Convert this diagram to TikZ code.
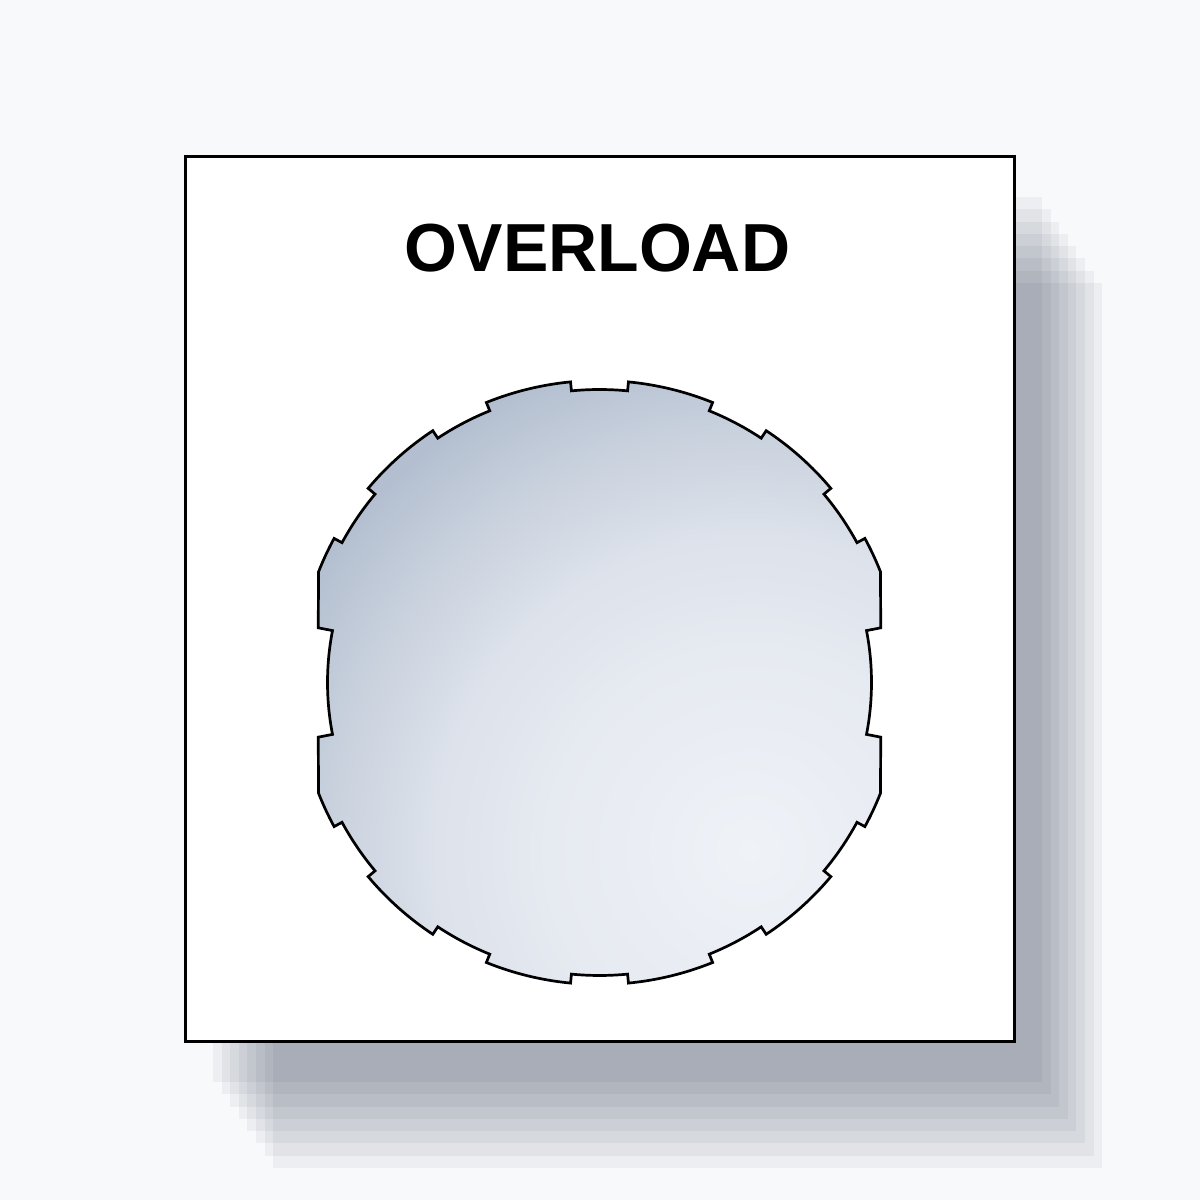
\documentclass[tikz,border=0pt]{standalone}
\usepackage{fontspec}
\setmainfont{Liberation Sans}
\definecolor{bgcol}{HTML}{F8F9FB}
\definecolor{shcol}{RGB}{22,40,62}
\definecolor{lensA}{HTML}{EFF2F7}
\definecolor{lensB}{HTML}{E6EAF1}
\definecolor{lensC}{HTML}{DDE2EB}
\definecolor{lensD}{HTML}{CAD2DE}
\definecolor{lensE}{HTML}{B3BFD0}
\pgfdeclareradialshading{lensshade}{\pgfpoint{0bp}{0bp}}{color(0bp)=(lensA); color(9bp)=(lensB); color(14bp)=(lensC); color(18.5bp)=(lensD); color(23bp)=(lensE); color(50bp)=(lensE)}
\tikzset{
  panelbox/.style={draw=black, line width=3pt, fill=white, minimum width=829pt, minimum height=885pt, inner sep=0pt},
  shadowlayer/.style={fill=shcol, opacity=0.052},
  lens/.style={draw=black, line width=2.7pt, line join=miter,
    path picture={\shade[shading=lensshade] ([shift={(150,-168)}]path picture bounding box.center) circle (560);}},
  titletext/.style={font=\bfseries\fontsize{68}{68}\selectfont, inner sep=0pt}
}
\begin{document}
\begin{tikzpicture}[x=1pt,y=1pt]
\fill[bgcol] (0,0) rectangle (1200,1200);
\useasboundingbox (0,0) rectangle (1200,1200);
% shadow copies
\foreach \k in {0,...,7} {
  \fill[shadowlayer] ({185+28+8.6*\k},{158-40-12.3*\k}) rectangle ({1014+28+8.6*\k},{1043-40-12.3*\k});
}
\node[panelbox] (panel) at (599.5,600.5) {};
\node[titletext] (title) at (597.5,951.5) {OVERLOAD};
\def\ri{293}
\def\ro{302}
\def\rs{272}
\def\rf{286.5}
\begin{scope}[shift={(599.5,517.5)}]
\draw[lens] (11:\rs) -- (11:\rf) -- (21.5:\ro)
  arc[start angle=21.5,end angle=28.5,radius=\ro] -- (28.5:\ri)
  arc[start angle=28.5,end angle=40,radius=\ri] -- (40:\ro)
  arc[start angle=40,end angle=56.5,radius=\ro] -- (56.5:\ri)
  arc[start angle=56.5,end angle=68,radius=\ri] -- (68:\ro)
  arc[start angle=68,end angle=84.5,radius=\ro] -- (84.5:\ri)
  arc[start angle=84.5,end angle=95.5,radius=\ri] -- (95.5:\ro)
  arc[start angle=95.5,end angle=112,radius=\ro] -- (112:\ri)
  arc[start angle=112,end angle=123.5,radius=\ri] -- (123.5:\ro)
  arc[start angle=123.5,end angle=140,radius=\ro] -- (140:\ri)
  arc[start angle=140,end angle=151.5,radius=\ri] -- (151.5:\ro)
  arc[start angle=151.5,end angle=158.5,radius=\ro] -- (169:\rf) -- (169:\rs)
  arc[start angle=169,end angle=191,radius=\rs] -- (191:\rf) -- (201.5:\ro)
  arc[start angle=201.5,end angle=208.5,radius=\ro] -- (208.5:\ri)
  arc[start angle=208.5,end angle=220,radius=\ri] -- (220:\ro)
  arc[start angle=220,end angle=236.5,radius=\ro] -- (236.5:\ri)
  arc[start angle=236.5,end angle=248,radius=\ri] -- (248:\ro)
  arc[start angle=248,end angle=264.5,radius=\ro] -- (264.5:\ri)
  arc[start angle=264.5,end angle=275.5,radius=\ri] -- (275.5:\ro)
  arc[start angle=275.5,end angle=292,radius=\ro] -- (292:\ri)
  arc[start angle=292,end angle=303.5,radius=\ri] -- (303.5:\ro)
  arc[start angle=303.5,end angle=320,radius=\ro] -- (320:\ri)
  arc[start angle=320,end angle=331.5,radius=\ri] -- (331.5:\ro)
  arc[start angle=331.5,end angle=338.5,radius=\ro] -- (349:\rf) -- (349:\rs)
  arc[start angle=349,end angle=371,radius=\rs] -- cycle;
\end{scope}
\end{tikzpicture}
\end{document}
